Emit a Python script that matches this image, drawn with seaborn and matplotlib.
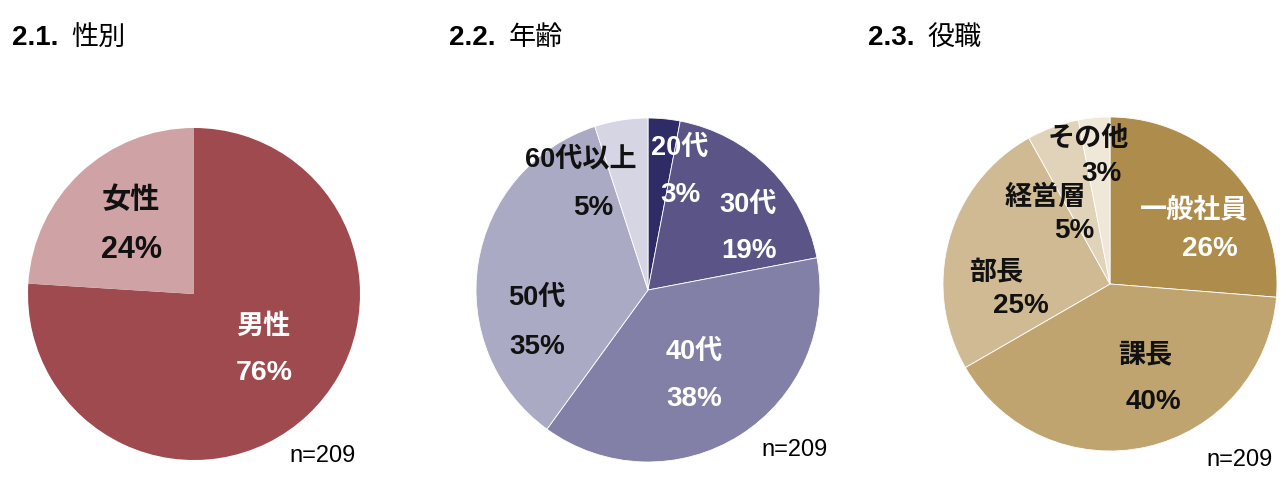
import matplotlib
matplotlib.use("Agg")
import matplotlib.pyplot as plt
import seaborn as sns

sns.set_theme(style="white")
FONT = ['Liberation Sans', 'Noto Sans CJK JP', 'DejaVu Sans']
plt.rcParams['font.family'] = FONT

# ---------------- data ----------------
titles_num = ["2.1.", "2.2.", "2.3."]
titles_txt = ["性別", "年齢", "役職"]

gender_labels = ["男性", "女性"]
gender_values = [76, 24]
gender_colors = ["#9e4a4e", "#cfa3a5"]

age_labels = ["20代", "30代", "40代", "50代", "60代以上"]
age_values = [3, 19, 38, 35, 5]
age_colors = ["#2f2b66", "#5b5587", "#8280a6", "#abaac5", "#d6d5e3"]

role_labels = ["一般社員", "課長", "部長", "経営層", "その他"]
role_values = [26, 40, 25, 5, 3]
role_colors = ["#ad8c4c", "#c0a46f", "#cfba93", "#e1d3b9", "#efe7d7"]

n_text = "n=209"

# ---------------- layout (pixels) ----------------
W, H = 1281, 500
fig = plt.figure(figsize=(W / 100, H / 100), dpi=100)
fig.patch.set_facecolor("white")


def fx(x):
    return x / W


def fy(y):
    return 1 - y / H


pies = [
    dict(labels=gender_labels, values=gender_values, colors=gender_colors,
         center=(194, 294), r=166, edge=0,
         name_pos=[(263, 327), (131, 200)],
         pct_pos=[(264, 373), (131, 250)],
         name_fs=[19.5, 21], pct_fs=[20.5, 22],
         txt_col=["white", "#111111"],
         title_x=10, n_pos=(323, 456)),
    dict(labels=age_labels, values=age_values, colors=age_colors,
         center=(648, 290), r=172, edge=0.6,
         name_pos=[(680, 148), (748, 205), (694, 352), (537, 298), (581, 160)],
         pct_pos=[(680, 195), (749, 251), (694, 399), (537, 347), (593, 208)],
         name_fs=[19.5] * 5, pct_fs=[20] * 5,
         txt_col=["white", "white", "white", "#111111", "#111111"],
         title_x=447, n_pos=(795, 450)),
    dict(labels=role_labels, values=role_values, colors=role_colors,
         center=(1110, 284), r=167, edge=0.6,
         name_pos=[(1194, 211), (1145, 355), (996, 273), (1045, 198), (1088, 140)],
         pct_pos=[(1210, 249), (1153, 402), (1021, 306), (1074, 231), (1101, 174)],
         name_fs=[19.5] * 5, pct_fs=[20] * 5,
         txt_col=["white", "#111111", "#111111", "#111111", "#111111"],
         title_x=866, n_pos=(1240, 460)),
]

for i, p in enumerate(pies):
    cx, cy = p["center"]
    r = p["r"]
    ax = fig.add_axes([fx(cx - r), fy(cy + r), 2 * r / W, 2 * r / H])
    ax.pie(p["values"], colors=p["colors"], startangle=90, counterclock=False,
           wedgeprops=dict(linewidth=p["edge"], edgecolor="white"))
    ax.set_xlim(-1, 1)
    ax.set_ylim(-1, 1)
    ax.set_aspect("equal")
    ax.axis("off")

    for lab, val, npos, ppos, col, nfs, pfs in zip(
            p["labels"], p["values"], p["name_pos"], p["pct_pos"],
            p["txt_col"], p["name_fs"], p["pct_fs"]):
        fig.text(fx(npos[0]), fy(npos[1]), lab, ha="center", va="center",
                 fontsize=nfs, fontweight="bold", color=col, family=FONT)
        fig.text(fx(ppos[0]), fy(ppos[1]), f"{val}%", ha="center", va="center",
                 fontsize=pfs, fontweight="bold", color=col, family=FONT)

    # title
    t = fig.text(fx(p["title_x"] + 2), fy(38), titles_num[i], ha="left", va="center",
                 fontsize=20, fontweight="bold", color="black", family=FONT)
    fig.canvas.draw()
    bb = t.get_window_extent()
    fig.text(bb.x1 / W + fx(13), fy(38), titles_txt[i], ha="left", va="center",
             fontsize=19.5, color="black", family=FONT)

    fig.text(fx(p["n_pos"][0]), fy(p["n_pos"][1]), n_text, ha="center", va="center",
             fontsize=17, color="black", family=FONT)

fig.savefig("out.png", dpi=100, facecolor="white")
